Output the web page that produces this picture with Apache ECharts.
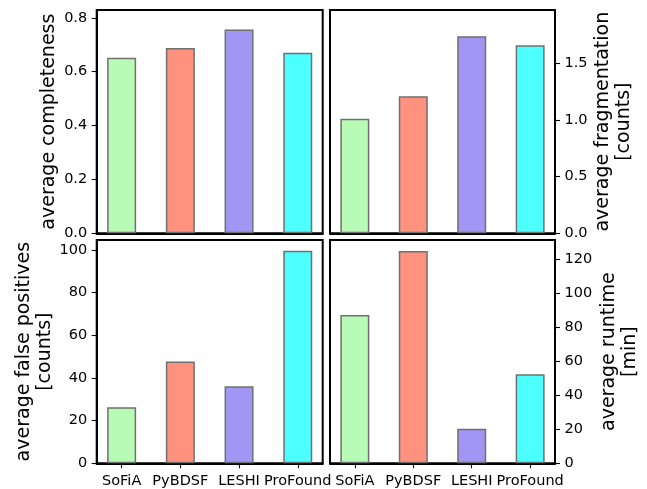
<!DOCTYPE html>
<html>
<head>
<meta charset="utf-8">
<script src="https://cdn.jsdelivr.net/npm/echarts@6/dist/echarts.min.js"></script>
<style>
  html, body { margin: 0; padding: 0; background: #fff; }
  #chart { width: 647px; height: 489px; }
</style>
</head>
<body>
<div id="chart"></div>
<script>
// Finder names along the shared x axis
const categories = ['SoFiA', 'PyBDSF', 'LESHI', 'ProFound'];
const barColors = ['#b7fbb7', '#ff927e', '#a395f3', '#4dffff'];

// Per-finder averages
const completeness = [0.652, 0.688, 0.757, 0.670];
const fragmentation = [1.011, 1.209, 1.739, 1.659];
const falsePositives = [26.3, 47.7, 36.1, 99.7];
const runtime = [87.1, 124.7, 20.3, 52.3];

// Axis label texts
const yNames = [
  'average completeness',
  'average fragmentation\n[counts]',
  'average false positives\n[counts]',
  'average runtime\n[min]'
];

const FONT = 'DejaVu Sans';
const panels = [
  { data: completeness,   left: 96.7, top: 10,  width: 226, side: 'left',  max: 0.829, interval: 0.2, dec: 1, gap: 37,   showX: false },
  { data: fragmentation,  left: 330,  top: 10,  width: 225, side: 'right', max: 1.971, interval: 0.5, dec: 1, gap: 38,   showX: false },
  { data: falsePositives, left: 96.7, top: 240, width: 226, side: 'left',  max: 104.7, interval: 20,  dec: 0, gap: 38,   showX: true },
  { data: runtime,        left: 330,  top: 240, width: 225, side: 'right', max: 131.2, interval: 20,  dec: 0, gap: 43.5, showX: true }
];
const PANEL_H = 223.3;
const tickIdx = categories.map((_, i) => i);

const grid = [], xAxis = [], yAxis = [], series = [];
panels.forEach((p, k) => {
  grid.push({
    left: p.left, top: p.top, width: p.width, height: PANEL_H,
    show: true, borderColor: '#000', borderWidth: 2, backgroundColor: 'transparent'
  });
  xAxis.push({
    type: 'value', gridIndex: k, min: -0.425, max: 3.425,
    splitLine: { show: false },
    axisLine: { show: true, onZero: false, lineStyle: { color: '#000', width: 2 } },
    axisTick: { show: p.showX, customValues: tickIdx, length: 5, lineStyle: { color: '#000', width: 1.1 } },
    axisLabel: {
      show: p.showX, customValues: tickIdx, margin: 10,
      fontFamily: FONT, fontSize: 14.5, color: '#000',
      formatter: v => categories[Math.round(v)]
    }
  });
  yAxis.push({
    type: 'value', gridIndex: k, position: p.side, min: 0, max: p.max, interval: p.interval,
    splitLine: { show: false },
    axisLine: { show: true, onZero: false, lineStyle: { color: '#000', width: 2 } },
    axisTick: { show: true, length: 5, lineStyle: { color: '#000', width: 1.1 } },
    axisLabel: {
      margin: 9.5, fontFamily: FONT, fontSize: 14.5, color: '#000',
      showMaxLabel: false,
      formatter: v => v.toFixed(p.dec)
    },
    name: yNames[k], nameLocation: 'middle', nameRotate: 90, nameGap: p.gap,
    nameTextStyle: { fontFamily: FONT, fontSize: 19, color: '#000', lineHeight: 21 }
  });
  series.push({
    type: 'bar', xAxisIndex: k, yAxisIndex: k, barWidth: 29,
    data: p.data.map((v, i) => ({
      value: [i, v],
      itemStyle: { color: barColors[i], borderColor: '#707070', borderWidth: 1.5 }
    })),
    animation: false
  });
});

const chart = echarts.init(document.getElementById('chart'), null, { renderer: 'canvas' });
chart.setOption({ animation: false, grid, xAxis, yAxis, series });
</script>
</body>
</html>
